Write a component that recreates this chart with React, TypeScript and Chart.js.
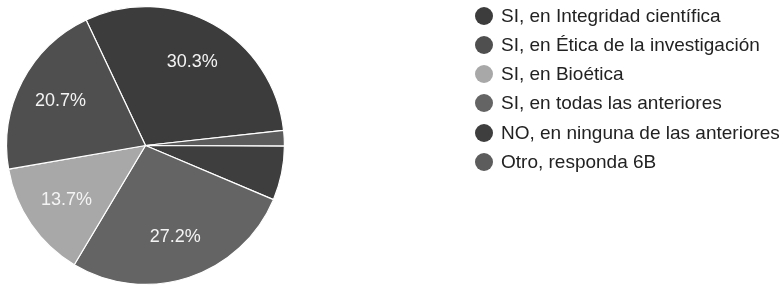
import React, { useEffect, useRef } from "react";
import { Chart, registerables } from "chart.js";

Chart.register(...registerables);

const categories = [
  "SI, en Integridad científica",
  "SI, en Ética de la investigación",
  "SI, en Bioética",
  "SI, en todas las anteriores",
  "NO, en ninguna de las anteriores",
  "Otro, responda 6B",
];
const values = [30.3, 20.7, 13.7, 27.2, 6.3, 1.8];
const colors = ["#3c3c3c", "#4f4f4f", "#a8a8a8", "#646464", "#3e3e3e", "#5c5c5c"];

// slices run counter-clockwise in the reference: first item, then the rest reversed
const drawOrder = [0, ...values.map((_, i) => i).slice(1).reverse()];

const FONT = "'Liberation Sans', Arial, sans-serif";

const labelPlugin = {
  id: "sliceLabels",
  afterDatasetsDraw(chart: any) {
    const meta = chart.getDatasetMeta(0);
    const data = chart.data.datasets[0].data as number[];
    const total = data.reduce((a, b) => a + b, 0);
    const ctx = chart.ctx;
    ctx.save();
    ctx.fillStyle = "#f4f4f4";
    ctx.font = `18px ${FONT}`;
    ctx.textAlign = "center";
    ctx.textBaseline = "middle";
    meta.data.forEach((arc: any, i: number) => {
      const pct = (data[i] / total) * 100;
      if (pct < 10) return;
      const { x, y, startAngle, endAngle, outerRadius } = arc.getProps(
        ["x", "y", "startAngle", "endAngle", "outerRadius"],
        true
      );
      const mid = (startAngle + endAngle) / 2;
      const r = outerRadius * 0.69;
      ctx.fillText(pct.toFixed(1) + "%", x + Math.cos(mid) * r, y + Math.sin(mid) * r);
    });
    ctx.restore();
  },
};

export default function App() {
  const ref = useRef<HTMLCanvasElement>(null);

  useEffect(() => {
    if (!ref.current) return;
    const chart = new Chart(ref.current, {
      type: "pie",
      data: {
        labels: drawOrder.map((i) => categories[i]),
        datasets: [
          {
            data: drawOrder.map((i) => values[i]),
            backgroundColor: drawOrder.map((i) => colors[i]),
            borderColor: "#ffffff",
            borderWidth: 1.2,
          },
        ],
      },
      options: {
        responsive: false,
        animation: false,
        devicePixelRatio: 1,
        rotation: -25.3,
        layout: { padding: { left: 6, top: 6, right: 498, bottom: 2 } },
        plugins: {
          legend: { display: false },
          tooltip: { enabled: false },
        },
      },
      plugins: [labelPlugin],
    });
    return () => chart.destroy();
  }, []);

  return (
    <div
      style={{
        position: "absolute",
        left: 0,
        top: 0,
        width: 783,
        height: 287,
        background: "#ffffff",
        fontFamily: FONT,
      }}
    >
      <canvas
        ref={ref}
        width={783}
        height={287}
        style={{ display: "block", width: 783, height: 287 }}
      />
      {categories.map((c, i) => (
        <div
          key={c}
          style={{
            position: "absolute",
            left: 475,
            top: 15.7 + i * 29.2 - 12,
            height: 24,
            display: "flex",
            alignItems: "center",
            whiteSpace: "nowrap",
          }}
        >
          <span
            style={{
              display: "inline-block",
              width: 18,
              height: 18,
              borderRadius: "50%",
              background: colors[i],
              marginRight: 8,
              flex: "none",
            }}
          />
          <span style={{ fontSize: 19, color: "#222222", lineHeight: "24px" }}>{c}</span>
        </div>
      ))}
    </div>
  );
}
